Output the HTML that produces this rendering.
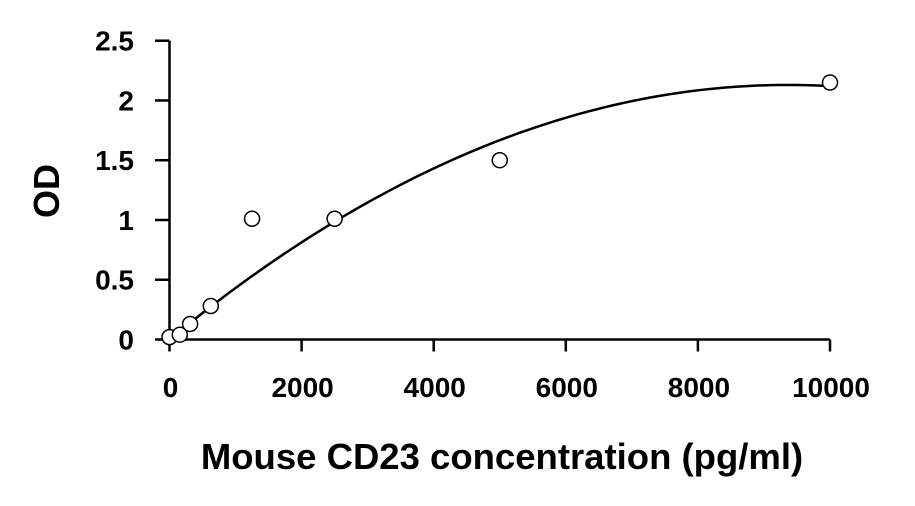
<!DOCTYPE html>
<html><head><meta charset="utf-8"><style>
html,body{margin:0;padding:0;background:#fff;}
svg{display:block;font-family:"Liberation Sans",Arial,sans-serif;font-weight:bold;}
</style></head><body>
<svg id="chart" width="915" height="506" viewBox="0 0 915 506"></svg>
<script>
const xTicks = [0, 2000, 4000, 6000, 8000, 10000];
const yTicks = [0, 0.5, 1, 1.5, 2, 2.5];
const yTickLabels = ["0", "0.5", "1", "1.5", "2", "2.5"];
const concentrations = [0, 156, 312, 625, 1250, 2500, 5000, 10000];
const odValues = [0.02, 0.04, 0.13, 0.28, 1.01, 1.01, 1.5, 2.15];
const fitCoefficients = [0, 4.55e-4, -2.43e-8];

const NS = "http://www.w3.org/2000/svg";
const svg = document.getElementById("chart");
const X0 = 169.5, X1 = 830, Y0 = 339.5, Y1 = 40.7;
const xs = v => X0 + (v - 0) / (10000 - 0) * (X1 - X0);
const ys = v => Y0 - (v - 0) / (2.5 - 0) * (Y0 - Y1);
function mk(tag, attrs) {
  const e = document.createElementNS(NS, tag);
  for (const k in attrs) e.setAttribute(k, attrs[k]);
  svg.appendChild(e);
  return e;
}
const ya = mk("line", {x1: X0, y1: Y1, x2: X0, y2: Y0, stroke: "#000", "stroke-width": 2.5});


const xa = mk("line", {x1: X0, y1: Y0, x2: X1, y2: Y0, stroke: "#000", "stroke-width": 2.5});


yTicks.forEach((t, i) => {
  const y = ys(t);
  const tk = mk("line", {x1: 155, y1: y, x2: X0, y2: y, stroke: "#000", "stroke-width": 2.5});
  
  
  const tx = mk("text", {x: 134, y: y + 10, "text-anchor": "end", "font-size": 28});
  tx.textContent = yTickLabels[i];
  
  
});
xTicks.forEach(t => {
  const x = xs(t);
  const tk = mk("line", {x1: x, y1: Y0, x2: x, y2: Y0 + 12, stroke: "#000", "stroke-width": 2.5});
  
  
  const tx = mk("text", {x: x + 1, y: 397, "text-anchor": "middle", "font-size": 28});
  tx.textContent = String(t);
  
  
});
let d = "";
for (let i = 0; i <= 100; i++) {
  const c = 10000 * i / 100;
  const v = fitCoefficients[0] + fitCoefficients[1] * c + fitCoefficients[2] * c * c;
  d += (i ? "L" : "M") + xs(c).toFixed(2) + "," + ys(v).toFixed(2);
}
const curve = mk("path", {d: d, fill: "none", stroke: "#000", "stroke-width": 2.5});


concentrations.forEach((c, i) => {
  const p = mk("circle", {cx: xs(c), cy: ys(odValues[i]), r: 7.5, fill: "#fff", stroke: "#000", "stroke-width": 1.5});
  
  
});
const xt = mk("text", {x: 502, y: 469, "text-anchor": "middle", "font-size": 36.5});
xt.textContent = "Mouse CD23 concentration (pg/ml)";


const yt = mk("text", {x: 0, y: 0, "text-anchor": "middle", "font-size": 36, transform: "translate(59,191) rotate(-90)"});
yt.textContent = "OD";


</script>
</body></html>
